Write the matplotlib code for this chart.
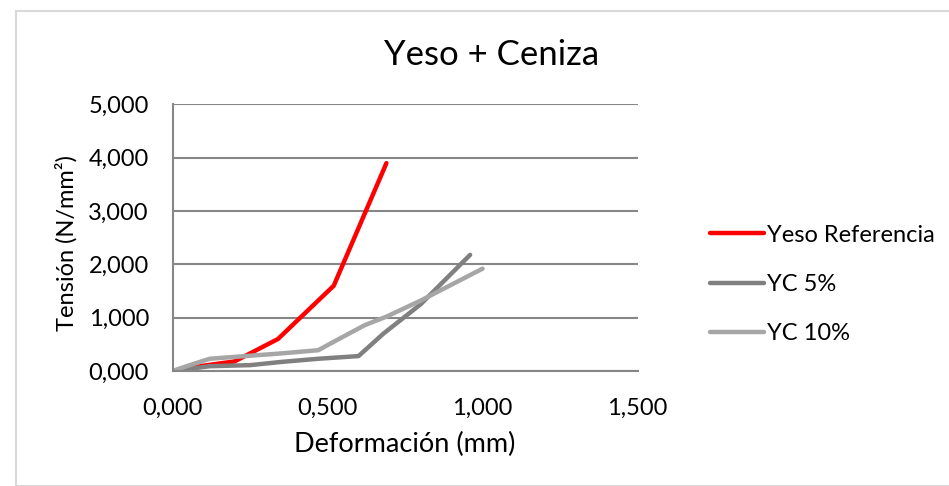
import matplotlib
matplotlib.use("Agg")
import matplotlib.pyplot as plt
from matplotlib.patches import Rectangle
from matplotlib.ticker import FuncFormatter

# values
ref_x = [0.0, 0.10, 0.20, 0.34, 0.52, 0.69]
ref_y = [0.0, 0.10, 0.18, 0.60, 1.60, 3.90]

yc5_x = [0.0, 0.12, 0.25, 0.35, 0.47, 0.60, 0.68, 0.80, 0.96]
yc5_y = [0.0, 0.09, 0.11, 0.17, 0.23, 0.28, 0.70, 1.25, 2.18]

yc10_x = [0.0, 0.05, 0.12, 0.35, 0.47, 0.53, 0.62, 0.69, 0.80, 1.00]
yc10_y = [0.0, 0.10, 0.23, 0.33, 0.39, 0.58, 0.86, 1.02, 1.32, 1.92]

series = [("Yeso Referencia", ref_x, ref_y, "#ff0000"),
          ("YC 5%", yc5_x, yc5_y, "#808080"),
          ("YC 10%", yc10_x, yc10_y, "#a6a6a6")]

FONT = "Lato"


def comma_fmt(v, pos):
    return f"{v:,.3f}".replace(".", ",")


def main():
    fig = plt.figure(figsize=(9.49, 4.86), dpi=100)

    # outer chart border
    fig.patches.append(Rectangle((16 / 949, 0), 1.0, 1 - 11 / 486,
                                 transform=fig.transFigure, fill=False,
                                 edgecolor="#d9d9d9", linewidth=1.5))

    ax = fig.add_axes([0.1818, 0.2366, 0.490, 0.5484])

    for name, x, y, c in series:
        ax.plot(x, y, color=c, linewidth=3.2, label=name,
                solid_capstyle="round", solid_joinstyle="round")

    ax.set_xlim(0, 1.5)
    ax.set_ylim(0, 5)
    ax.set_xticks([0, 0.5, 1.0, 1.5])
    ax.set_yticks([0, 1, 2, 3, 4, 5])
    ax.xaxis.set_major_formatter(FuncFormatter(comma_fmt))
    ax.yaxis.set_major_formatter(FuncFormatter(comma_fmt))
    ax.tick_params(length=0, labelsize=17, colors="#000000")
    ax.tick_params(axis="y", pad=17)
    ax.tick_params(axis="x", pad=19)
    for lbl in ax.get_xticklabels() + ax.get_yticklabels():
        lbl.set_fontfamily(FONT)

    ax.grid(axis="y", color="#868686", linewidth=1.5)
    ax.set_axisbelow(True)
    for s in ["top", "right"]:
        ax.spines[s].set_visible(False)
    for s in ["left", "bottom"]:
        ax.spines[s].set_color("#868686")
        ax.spines[s].set_linewidth(1.5)

    fig.text(492 / 949, 1 - 55 / 486, "Yeso + Ceniza", fontsize=25,
             family=FONT, ha="center", va="center")
    ax.set_xlabel("Deformación (mm)", fontsize=19.5, family=FONT)
    ax.set_ylabel("Tensión (N/mm²)", fontsize=17, family=FONT)
    ax.xaxis.set_label_coords(0.5, -0.228)
    ax.yaxis.set_label_coords(-0.205, 0.48)

    ax.legend(loc="center left", bbox_to_anchor=(1.11, 0.325), frameon=False,
              prop={"family": FONT, "size": 17}, handlelength=2.3,
              handletextpad=0.1, labelspacing=1.2)

    fig.savefig("out.png", dpi=100)


if __name__ == "__main__":
    main()
